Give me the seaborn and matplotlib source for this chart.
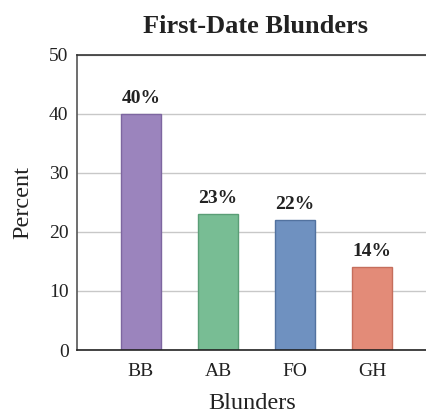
import matplotlib
matplotlib.use("Agg")
import matplotlib.pyplot as plt
import seaborn as sns
import pandas as pd

categories = ["BB", "AB", "FO", "GH"]
percents = [40, 23, 22, 14]
labels = ["40%", "23%", "22%", "14%"]
colors = ["#9b84bd", "#78bd94", "#6f91c0", "#e38b78"]
edges = ["#7d66a0", "#5a9e76", "#52729f", "#c56e5c"]

sns.set_theme(style="white")
plt.rcParams["font.family"] = ["Liberation Serif", "DejaVu Serif"]

df = pd.DataFrame({"Blunders": categories, "Percent": percents})

fig = plt.figure(figsize=(4.27, 4.13), dpi=100)
ax = fig.add_axes([0.180, 0.1525, 0.82, 0.7145])
sns.barplot(data=df, x="Blunders", y="Percent", hue="Blunders", palette=colors,
            legend=False, width=0.52, ax=ax, linewidth=1, saturation=1)
for p, ec in zip(ax.patches, edges):
    p.set_edgecolor(ec)

for i, (v, t) in enumerate(zip(percents, labels)):
    ax.text(i, v + 1.2, t, ha="center", va="bottom", fontsize=14, fontweight="bold", color="#222222")

ax.set_ylim(0, 50)
ax.set_xlim(-0.83, 3.71)
ax.set_yticks([0, 10, 20, 30, 40, 50])
ax.yaxis.grid(True, color="#c8c8c8", linewidth=1)
ax.set_axisbelow(True)
ax.tick_params(axis="both", length=0, labelsize=14, colors="#222222", pad=6)
ax.tick_params(axis="x", pad=9)
ax.set_xlabel("Blunders", fontsize=17.5, color="#222222", labelpad=10)
ax.set_ylabel("Percent", fontsize=17.5, color="#222222", labelpad=11)
ax.set_title("First-Date Blunders", fontsize=19, fontweight="bold", color="#222222", pad=16, x=0.51)

ax.spines["right"].set_visible(False)
ax.spines["top"].set_color("#333333")
ax.spines["left"].set_color("#555555")
ax.spines["bottom"].set_color("#222222")
for s in ["top", "left", "bottom"]:
    ax.spines[s].set_linewidth(1.2)

fig.savefig("out.png", dpi=100)
